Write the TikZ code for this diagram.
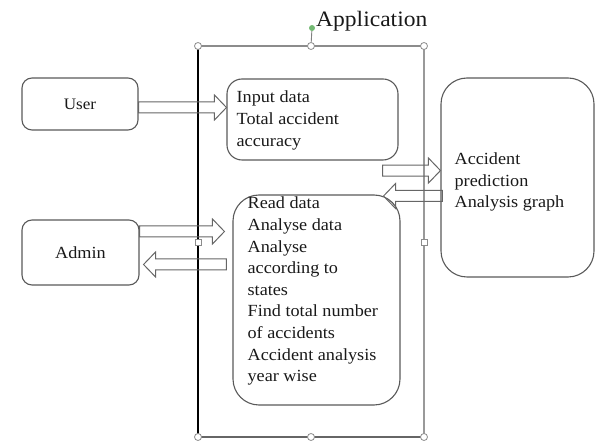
\documentclass[tikz,border=0pt]{standalone}
\usepackage{fontspec}
\setmainfont{Liberation Serif}
\newfontfamily\bodyserif[FakeStretch=1.07]{Liberation Serif}
\usetikzlibrary{calc}

\tikzset{
  box/.style={draw=black!65, line width=1.1pt, inner sep=0pt},
  body/.style={font=\bodyserif\fontsize{17}{21.6}\selectfont, text=black!90,
               align=left, inner sep=0pt},
  % hollow block arrow between two points on one horizontal line
  hollow/.style={draw=black!60, line width=1pt, line join=miter,
    to path={
      let \p1=(\tikztostart), \p2=(\tikztotarget),
          \n1={ifthenelse(\x2>\x1,12,-12)} in
      ({\x1},{\y1+5.5pt}) -- ({\x2-(\n1)*1pt},{\y1+5.5pt})
      -- ({\x2-(\n1)*1pt},{\y1+12.5pt}) -- ({\x2},{\y1})
      -- ({\x2-(\n1)*1pt},{\y1-12.5pt}) -- ({\x2-(\n1)*1pt},{\y1-5.5pt})
      -- ({\x1},{\y1-5.5pt}) -- cycle}},
  roundhandle/.style={circle, draw=black!45, fill=white, line width=0.8pt,
                      minimum size=7pt, inner sep=0pt},
  squarehandle/.style={rectangle, draw=black!45, fill=white, line width=0.8pt,
                       minimum size=6pt, inner sep=0pt},
}

\begin{document}
\begin{tikzpicture}[x=1pt,y=-1pt]
\useasboundingbox (0,0) rectangle (595,443);

% application frame
\draw[black!45, line width=1.1pt] (198,46) -- (424,46);
\draw[black!40, line width=1.5pt] (424,46) -- (424,437);
\draw[black!60, line width=2pt] (198,437) -- (424,437);
\draw[black, line width=1.4pt] (198,46) -- (198,437);

% selection handles of the frame
\node[roundhandle] (htm) at (311,46) {};
\node[circle, fill=green!50!black!55, minimum size=6pt, inner sep=0pt] (rot) at (312,28) {};
\draw[black!50, line width=0.9pt] (rot) -- (htm);
\node[roundhandle] (htl) at (198,46) {};
\node[roundhandle] (htr) at (424,46) {};
\node[roundhandle] (hbl) at (198,437) {};
\node[roundhandle] (hbm) at (311,437) {};
\node[roundhandle] (hbr) at (424,437) {};
\node[squarehandle] (hml) at (198,242) {};
\node[squarehandle] (hmr) at (424,242) {};

\node[font=\bodyserif\fontsize{22}{26}\selectfont, text=black!90, anchor=base west, inner sep=0pt]
  (apptitle) at (316,27) {Application};

% actors
\node[box, rounded corners=10pt, minimum width=116pt, minimum height=52pt]
  (user) at (80,104) {};
\node[body, font=\bodyserif\fontsize{16}{20}\selectfont] (usertext) at (80,104) {User};
\node[box, rounded corners=10pt, minimum width=117pt, minimum height=65pt]
  (admin) at (80.5,252.5) {};
\node[body] (admintext) at (80.5,253) {Admin};

% application contents
\node[box, rounded corners=15pt, minimum width=171pt, minimum height=81pt]
  (input) at (312.5,119.5) {};
\node[body, anchor=west] (inputtext) at ($(input.west)+(10,1)$)
  {Input data\\Total accident\\accuracy};

\node[box, rounded corners=26pt, minimum width=167pt, minimum height=210pt]
  (read) at (316.5,300) {};
\node[body, anchor=north west] (readtext) at ($(read.north west)+(15,2.5)$)
  {Read data\\Analyse data\\Analyse\\according to\\states\\Find total number\\of accidents\\Accident analysis\\year wise};

% output
\node[box, rounded corners=26pt, minimum width=153pt, minimum height=199pt]
  (result) at (517.5,177.5) {};
\node[body, anchor=west] (resulttext) at ($(result.west)+(14,4.5)$)
  {Accident\\prediction\\Analysis graph};

% data flow
\coordinate (a1s) at ($(user.east)+(0,3.5)$);
\coordinate (a2s) at ($(input.south east)+(-16,10)$);
\coordinate (a3s) at ($(result.west)+(2,18.5)$);
\coordinate (a3e) at ($(read.north east)+(-17,0)$);
\coordinate (a4s) at ($(admin.east)+(0,-21)$);
\coordinate (a4e) at ($(read.west)+(-8,0)$);
\coordinate (a5s) at ($(read.west)+(-6,-35.5)$);
\coordinate (a5e) at ($(admin.east)+(4,0)$);

\draw[hollow] (a1s) to (input.west);
\draw[hollow] (a2s) to (result.west);
\draw[hollow] (a3s) to (a3e);
\draw[hollow] (a4s) to (a4e);
\draw[hollow] (a5s) to (a5e);
\end{tikzpicture}
\end{document}
